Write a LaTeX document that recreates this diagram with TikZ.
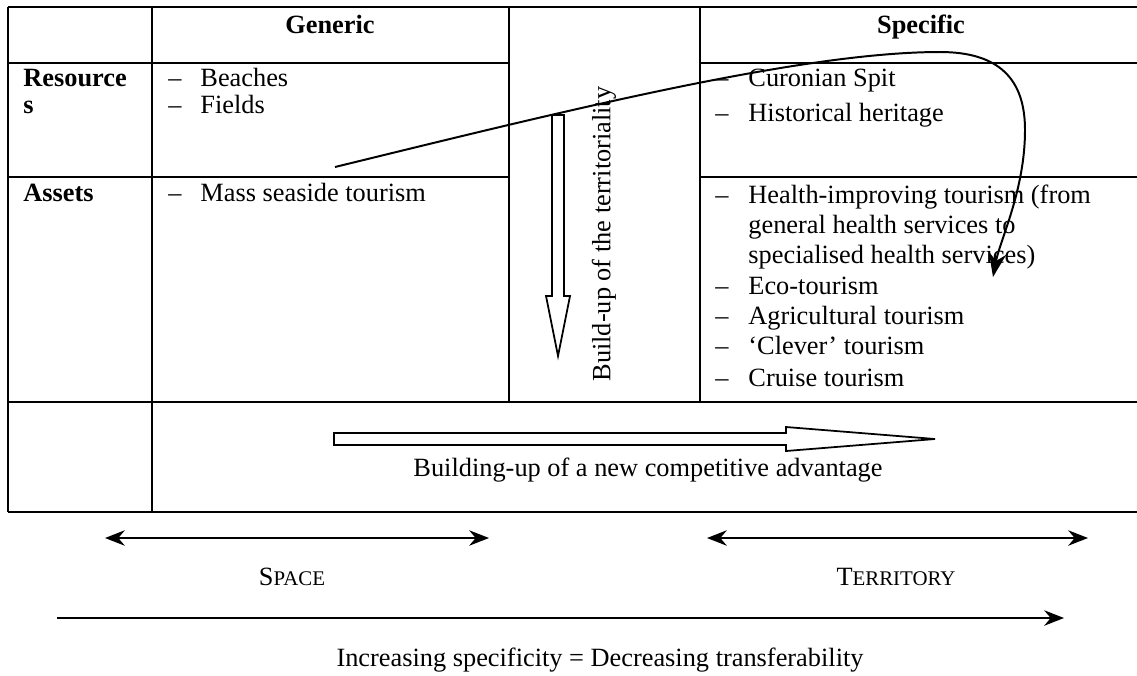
\documentclass[tikz,border=0pt]{standalone}
\usepackage{fontspec}
\setmainfont{Liberation Serif}
\usetikzlibrary{arrows.meta}
\newcommand{\smallcaps}[2]{#1{\fontsize{9.5}{11}\selectfont #2}}

\begin{document}
\begin{tikzpicture}[x=0.016cm,y=-0.016cm,font=\fontsize{12}{14}\selectfont,
    rule/.style={line width=1.1pt},
    cell/.style={anchor=west,inner sep=0pt,text height=1.6ex,text depth=0.4ex},
    head/.style={font=\fontsize{12}{14}\selectfont\bfseries,text height=1.6ex,text depth=0.4ex},
    blockarrow/.style={line width=0.8pt,fill=white},
    bendarrow/.style={line width=0.9pt,-{Stealth[length=11pt,width=8pt]}},
    spanarrow/.style={line width=1pt,{Stealth[length=9pt,width=7pt]}-{Stealth[length=9pt,width=7pt]}},
    longarrow/.style={line width=1pt,-{Stealth[length=9pt,width=7pt]}}]
    \useasboundingbox (0,0) rectangle (1137,675);
    \draw[rule] (8,7) -- (1140,7);
    \draw[rule] (8,63) -- (509,63) (700,63) -- (1140,63);
    \draw[rule] (8,177) -- (509,177) (700,177) -- (1140,177);
    \draw[rule] (8,402) -- (1140,402);
    \draw[rule] (8,512) -- (1140,512);
    \draw[rule] (8,7) -- (8,512) (152,7) -- (152,512);
    \draw[rule] (509,7) -- (509,402) (700,7) -- (700,402);
    \node[head] (generic) at (330,27) {Generic};
    \node[head] (specific) at (921,27) {Specific};
    \node[cell,head] (resa) at (23,80) {Resource};
    \node[cell,head] (resb) at (23,107) {s};
    \node[cell,head] (assets) at (23,195) {Assets};
    \foreach \n/\y/\t in {a/80/Beaches, b/107/Fields, c/195/Mass seaside tourism} {
      \node[cell] (gdash\n) at (168,\y) {--};
      \node[cell] (gitem\n) at (200,\y) {\t};
    }
    \foreach \n/\y/\t in {a/80/Curonian Spit, b/115/Historical heritage,
        c/197/Health-improving tourism (from, f/288/Eco-tourism,
        g/318/Agricultural tourism, h/348/`Clever' tourism, i/380/Cruise tourism} {
      \node[cell] (sdash\n) at (715,\y) {--};
      \node[cell] (sitem\n) at (748,\y) {\t};
    }
    \node[cell] (sitemd) at (748,227) {general health services to};
    \node[cell] (siteme) at (748,257) {specialised health services)};
    \node[rotate=90] (buildup) at (604,234) {Build-up of the territoriality};
    \draw[blockarrow] (552,115) -- (564,115) -- (564,296) -- (570,296) -- (558,356)
      -- (546,296) -- (552,296) -- cycle;
    \draw[blockarrow] (334,433) -- (786,433) -- (786,427) -- (935,439) -- (786,451)
      -- (786,445) -- (334,445) -- cycle;
    \node (advantage) at (648,470) {Building-up of a new competitive advantage};
    \coordinate (curvestart) at (335,167);
    \coordinate (curveend) at (993,277);
    \draw[bendarrow] (curvestart) .. controls (560,112) and (800,52) .. (940,52)
      .. controls (1000,52) and (1025,80) .. (1025,130)
      .. controls (1025,190) and (1000,240) .. (curveend);
    \coordinate (spaceleft) at (105,538);
    \coordinate (spaceright) at (489,538);
    \coordinate (terrleft) at (707,538);
    \coordinate (terrright) at (1088,538);
    \draw[spanarrow] (spaceleft) -- (spaceright);
    \draw[spanarrow] (terrleft) -- (terrright);
    \node (space) at (292,577) {\smallcaps{S}{PACE}};
    \node (territory) at (896,577) {\smallcaps{T}{ERRITORY}};
    \coordinate (specleft) at (57,618);
    \coordinate (specright) at (1064,618);
    \draw[longarrow] (specleft) -- (specright);
    \node (increasing) at (600,660) {Increasing specificity = Decreasing transferability};
\end{tikzpicture}
\end{document}
